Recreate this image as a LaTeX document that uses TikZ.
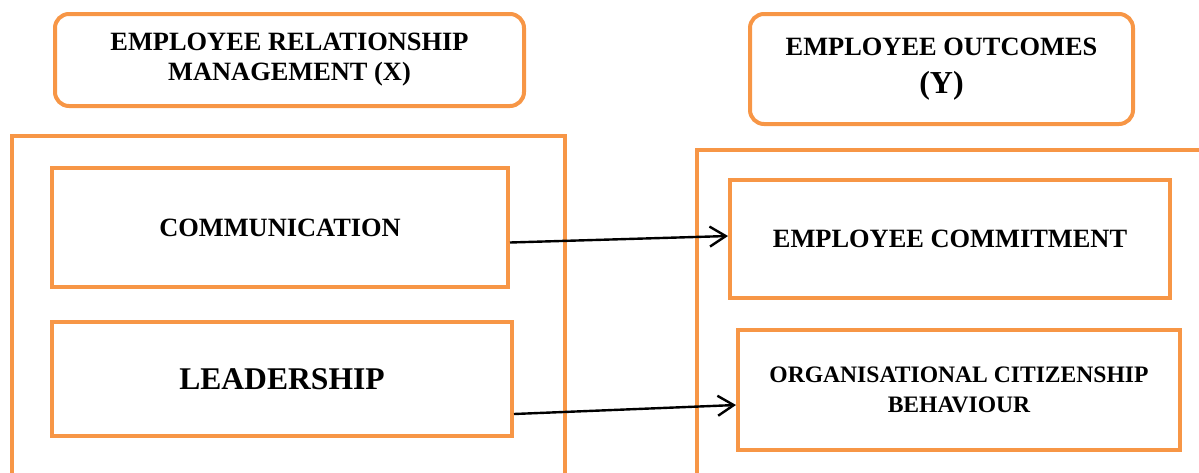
\documentclass[tikz,border=0pt]{standalone}
\usepackage{fontspec}
\setmainfont{Liberation Serif}
\usetikzlibrary{arrows.meta}
\definecolor{boxorange}{HTML}{F79646}

\begin{document}
\begin{tikzpicture}[x=0.5pt,y=-0.5pt]
    \useasboundingbox (0,0) rectangle (1199,472);
    % outer frames, open at the page edge
    \draw[boxorange, line width=2pt] (12,490) |- (565,136) -- (565,490);
    \draw[boxorange, line width=2pt] (697,490) |- (1220,150);
    \begin{scope}[every node/.style={draw=boxorange, line width=2pt, align=center, inner sep=2pt}]
        \node[rounded corners=7pt, minimum width=234.5pt, minimum height=46pt,
              font=\fontsize{13.2}{15}\selectfont\bfseries] (erm) at (289.5,60)
            {EMPLOYEE RELATIONSHIP\\ MANAGEMENT (X)};
        \node[rounded corners=7pt, minimum width=191.5pt, minimum height=55pt,
              font=\fontsize{13.2}{19}\selectfont\bfseries] (eo) at (941.5,69)
            {EMPLOYEE OUTCOMES\\ {\fontsize{16}{19}\selectfont (Y)}};
        \node[minimum width=228pt, minimum height=59.5pt,
              font=\fontsize{13.2}{15}\selectfont\bfseries] (comm) at (280,227.5)
            {COMMUNICATION};
        \node[minimum width=230pt, minimum height=57pt,
              font=\fontsize{15.8}{18}\selectfont\bfseries] (lead) at (282,379)
            {LEADERSHIP};
        \node[minimum width=220pt, minimum height=59pt,
              font=\fontsize{13.2}{15}\selectfont\bfseries] (commit) at (950,239)
            {EMPLOYEE COMMITMENT};
        \node[minimum width=221pt, minimum height=60pt,
              font=\fontsize{11.8}{15}\selectfont\bfseries] (ocb) at (959,390)
            {ORGANISATIONAL CITIZENSHIP\\ BEHAVIOUR};
    \end{scope}
    \begin{scope}[every edge/.style={-{Straight Barb[length=8pt,width=10pt]},draw=black,line width=1.2pt}]
        \path[->] ([yshift=-7.5pt]comm.east) edge ([yshift=1.5pt]commit.west);
        \path[->] ([yshift=-17.5pt]lead.east) edge ([yshift=-7.5pt]ocb.west);
    \end{scope}
\end{tikzpicture}
\end{document}
